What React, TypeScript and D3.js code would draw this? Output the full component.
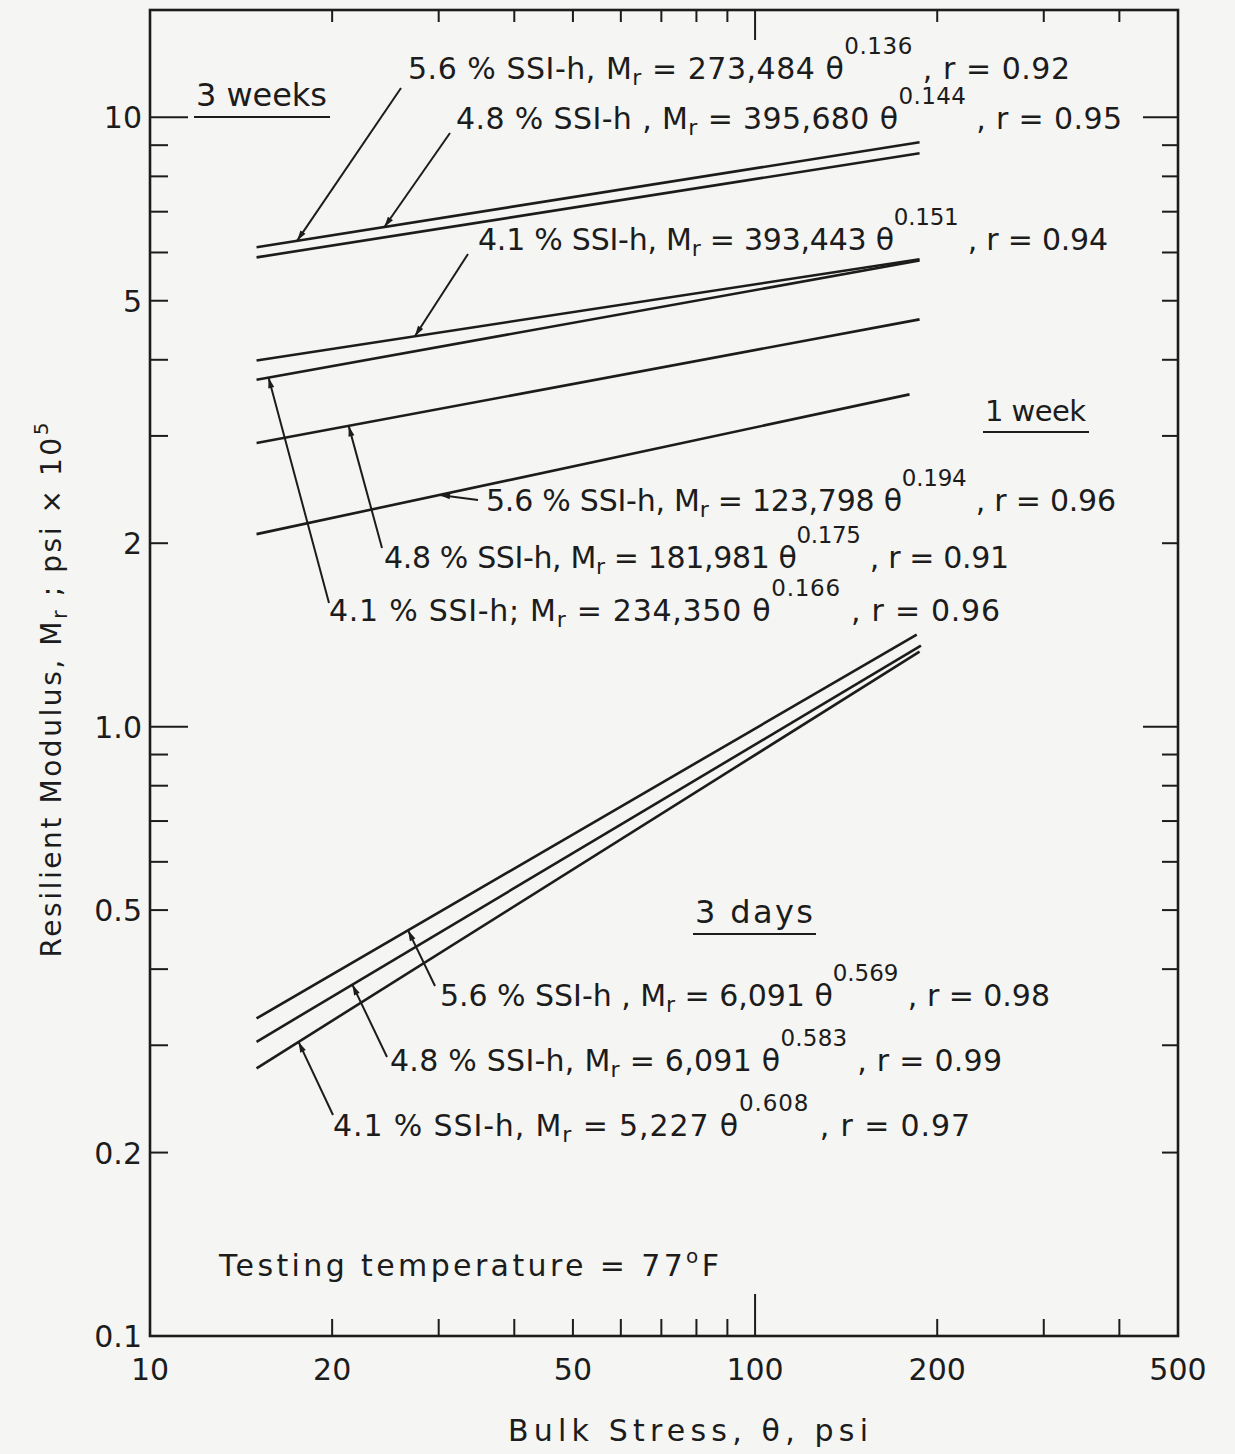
import React from "react";
import * as d3 from "d3";

// lines: start / end bulk stress and resilient modulus (psi x 10^5)
const seriesIds = ["3w-5.6", "3w-4.8", "3w-4.1", "1w-4.1", "1w-4.8", "1w-5.6", "3d-5.6", "3d-4.8", "3d-4.1"];
const thetaFrom = [15, 15, 15, 15, 15, 15, 15, 15, 15];
const thetaTo = [187, 187, 187, 187, 187, 180, 185, 188, 187];
const mrFrom = [6.12, 5.89, 3.99, 3.71, 2.92, 2.07, 0.332, 0.304, 0.275];
const mrTo = [9.1, 8.73, 5.85, 5.82, 4.66, 3.51, 1.416, 1.358, 1.328];

// equation labels
const labelPct = ["5.6 % SSI-h, M", "4.8 % SSI-h , M", "4.1 % SSI-h, M", "5.6 % SSI-h, M", "4.8 % SSI-h, M", "4.1 % SSI-h; M", "5.6 % SSI-h , M", "4.8 % SSI-h, M", "4.1 % SSI-h, M"];
const labelCoef = ["273,484", "395,680", "393,443", "123,798", "181,981", "234,350", "6,091", "6,091", "5,227"];
const labelExp = ["0.136", "0.144", "0.151", "0.194", "0.175", "0.166", "0.569", "0.583", "0.608"];
const labelR = ["0.92", "0.95", "0.94", "0.96", "0.91", "0.96", "0.98", "0.99", "0.97"];
// which line each leader arrow points at, and where (theta)
const leaderTarget = [0, 0, 2, 5, 4, 3, 6, 7, 8];
const leaderTheta = [17.5, 24.4, 27.4, 30.1, 21.3, 15.7, 26.7, 21.6, 17.6];

const groupNames = ["3 weeks", "1 week", "3 days"];

const xTickLabels = [10, 20, 50, 100, 200, 500];
const xMinor = [20, 30, 40, 50, 60, 70, 80, 90, 200, 300, 400];
const xMajor = [100];
const yTickLabels = ["0.1", "0.2", "0.5", "1.0", "2", "5", "10"];
const yMinor = [0.2, 0.3, 0.4, 0.5, 0.6, 0.7, 0.8, 0.9, 2, 3, 4, 5, 6, 7, 8, 9];
const yMajor = [1, 10];

// layout of the annotations (pixels)
const labelX = [408, 456, 478, 486, 384, 329, 440, 390, 333];
const labelY = [79, 129, 250, 511, 568, 621, 1006, 1071, 1136];
const labelW = [662, 666, 630, 630, 625, 671, 610, 612, 637];
const leaderStart = [[401, 88], [450, 133], [468, 254], [478, 500], [382, 548], [329, 603], [435, 986], [387, 1057], [333, 1115]];
const groupPos = [[196, 106, 131, 32], [985, 421, 101, 29], [695, 923, 118, 32]];

const W = 1235, H = 1454;
const left = 150, right = 1178, top = 10, bottom = 1336;
const ink = "#1c1c1c";
const font = "'DejaVu Sans', sans-serif";

export default function App() {
  const x = d3.scaleLog().domain([10, 500]).range([left, right]);
  const y = d3.scaleLog().domain([0.1, 15]).range([bottom, top]);

  const line = d3.line<[number, number]>().x(d => x(d[0])).y(d => y(d[1]));

  // point on a fitted line (straight in log-log) at a given theta
  const onLine = (i: number, t: number) => {
    const k = Math.log(mrTo[i] / mrFrom[i]) / Math.log(thetaTo[i] / thetaFrom[i]);
    return [x(t), y(mrFrom[i] * Math.pow(t / thetaFrom[i], k))];
  };

  return (
    <svg width={W} height={H} style={{ position: "absolute", left: 0, top: 0, background: "#f5f5f3" }}>
      <defs>
        <marker id="ah" viewBox="0 0 12 8" refX="12" refY="4" markerWidth="13" markerHeight="7" orient="auto" markerUnits="userSpaceOnUse">
          <path d="M0,0.5 L12,4 L0,7.5 z" fill={ink} />
        </marker>
      </defs>

      {/* frame */}
      <rect x={left} y={top} width={right - left} height={bottom - top} fill="none" stroke={ink} strokeWidth={2.6} />

      {/* x ticks, bottom and top */}
      {xMinor.map(v => (
        <g key={"xm" + v}>
          <line x1={x(v)} x2={x(v)} y1={bottom} y2={bottom - 17} stroke={ink} strokeWidth={2} />
          <line x1={x(v)} x2={x(v)} y1={top} y2={top + 12} stroke={ink} strokeWidth={2} />
        </g>
      ))}
      {xMajor.map(v => (
        <g key={"xM" + v}>
          <line x1={x(v)} x2={x(v)} y1={bottom} y2={bottom - 42} stroke={ink} strokeWidth={2} />
          <line x1={x(v)} x2={x(v)} y1={top} y2={top + 30} stroke={ink} strokeWidth={2} />
        </g>
      ))}
      {xTickLabels.map(v => (
        <text key={"xl" + v} x={x(v)} y={1380} textAnchor="middle" fontFamily={font} fontSize={30} fill={ink}>{v}</text>
      ))}

      {/* y ticks, left and right */}
      {yMinor.map(v => (
        <g key={"ym" + v}>
          <line x1={left} x2={left + 18} y1={y(v)} y2={y(v)} stroke={ink} strokeWidth={2} />
          <line x1={right} x2={right - 16} y1={y(v)} y2={y(v)} stroke={ink} strokeWidth={2} />
        </g>
      ))}
      {yMajor.map(v => (
        <g key={"yM" + v}>
          <line x1={left} x2={left + 38} y1={y(v)} y2={y(v)} stroke={ink} strokeWidth={2} />
          <line x1={right} x2={right - 35} y1={y(v)} y2={y(v)} stroke={ink} strokeWidth={2} />
        </g>
      ))}
      {yTickLabels.map(s => (
        <text key={"yl" + s} x={142} y={y(+s) + 11} textAnchor="end" fontFamily={font} fontSize={30} fill={ink}>{s}</text>
      ))}

      {/* axis titles */}
      <text x={688} y={1441} textAnchor="middle" fontFamily={font} fontSize={30} fill={ink} textLength={360}>
        Bulk Stress, θ, psi
      </text>
      <text transform="translate(61,690) rotate(-90)" textAnchor="middle" fontFamily={font} fontSize={28} fill={ink} textLength={535}>
        Resilient Modulus, M<tspan dy={6} fontSize={21}>r</tspan><tspan dy={-6}>{" ; psi × 10"}</tspan><tspan dy={-13} fontSize={20}>5</tspan>
      </text>

      {/* fitted lines */}
      {seriesIds.map((id, i) => (
        <path key={id} d={line([[thetaFrom[i], mrFrom[i]], [thetaTo[i], mrTo[i]]]) || ""} fill="none" stroke={ink} strokeWidth={2.6} />
      ))}

      {/* leader arrows */}
      {leaderTarget.map((s, i) => {
        const [tx, ty] = onLine(s, leaderTheta[i]);
        return <line key={"ld" + i} x1={leaderStart[i][0]} y1={leaderStart[i][1]} x2={tx} y2={ty} stroke={ink} strokeWidth={2} markerEnd="url(#ah)" />;
      })}

      {/* equation labels */}
      {labelPct.map((p, i) => (
        <text key={"lb" + i} x={labelX[i]} y={labelY[i]} fontFamily={font} fontSize={30} fill={ink} textLength={labelW[i]} lengthAdjust="spacing">
          {p}
          <tspan dy={6} fontSize={22}>r</tspan>
          <tspan dy={-6}>{" = " + labelCoef[i] + " θ"}</tspan>
          <tspan dy={-25} fontSize={23}>{labelExp[i]}</tspan>
          <tspan dy={25}>{" , r = " + labelR[i]}</tspan>
        </text>
      ))}

      {/* group titles with underline */}
      {groupNames.map((g, i) => (
        <g key={g}>
          <text x={groupPos[i][0]} y={groupPos[i][1]} fontFamily={font} fontSize={groupPos[i][3]} fill={ink} textLength={groupPos[i][2]}>{g}</text>
          <line x1={groupPos[i][0] - 2} x2={groupPos[i][0] + groupPos[i][2] + 3} y1={groupPos[i][1] + 11} y2={groupPos[i][1] + 11} stroke={ink} strokeWidth={2.2} />
        </g>
      ))}

      <text x={219} y={1276} fontFamily={font} fontSize={30} fill={ink} textLength={500}>
        Testing  temperature = 77<tspan dy={-13} fontSize={20}>o</tspan><tspan dy={13}>F</tspan>
      </text>
    </svg>
  );
}
